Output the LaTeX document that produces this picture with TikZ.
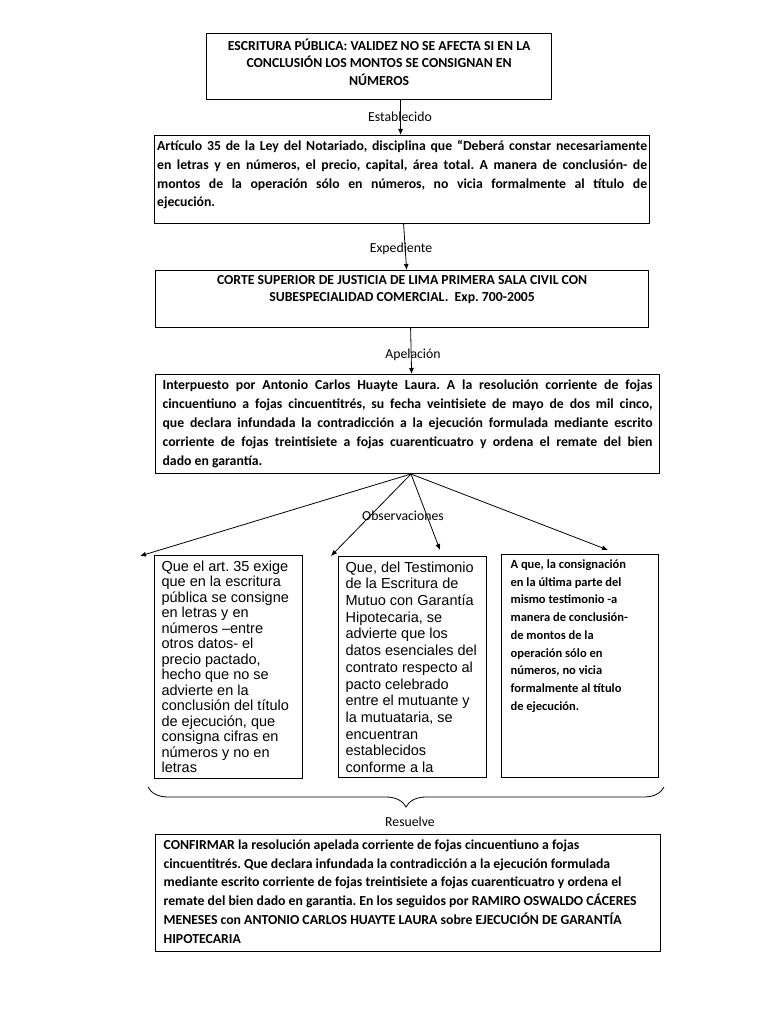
\documentclass[tikz,border=0pt]{standalone}
\usepackage{fontspec}
\setmainfont{Carlito}
\newfontfamily\arialfont{Liberation Sans}
\usetikzlibrary{calc,arrows.meta,decorations.pathreplacing}
\newcommand{\boxtext}[3]{\parbox[c][#2][t]{#1}{\hbadness=10000\frenchspacing #3}}

\begin{document}
\begin{tikzpicture}[x=1pt,y=-1pt,
 panel/.style={draw,line width=1.2pt,anchor=north west,inner ysep=5pt,font=\bfseries\fontsize{13.75}{18.5}\selectfont},
 tag/.style={font=\fontsize{13.75}{16}\selectfont},
 link/.style={-{Latex[length=6pt,width=5pt]},line width=0.8pt}]
 \useasboundingbox (0,0) rectangle (768,1024);
 \node[panel,inner xsep=5pt,font=\bfseries\fontsize{13.75}{17.5}\selectfont] (t) at (206,33) {\boxtext{335pt}{56pt}{\centering ESCRITURA PÚBLICA: VALIDEZ NO SE AFECTA SI EN LA\\ CONCLUSIÓN LOS MONTOS SE CONSIGNAN EN\\ NÚMEROS}};
 \node[panel,inner xsep=2.5pt,font=\bfseries\fontsize{13.75}{18.7}\selectfont] (a) at (154,135) {\boxtext{490pt}{78pt}{Artículo 35 de la Ley del Notariado, disciplina que “Deberá constar necesariamente\linebreak en letras y en números, el precio, capital, área total. A manera de conclusión- de\linebreak montos de la operación sólo en números, no vicia formalmente al título de\linebreak ejecución.}};
 \node[panel,inner xsep=5pt,font=\bfseries\fontsize{13.75}{17}\selectfont] (c) at (155,270) {\boxtext{483pt}{47pt}{\centering CORTE SUPERIOR DE JUSTICIA DE LIMA PRIMERA SALA CIVIL CON\\ SUBESPECIALIDAD COMERCIAL.\ \ Exp. 700-2005}};
 \node[panel,inner xsep=7pt,font=\bfseries\fontsize{13.75}{19}\selectfont] (i) at (155,374) {\boxtext{490pt}{89pt}{Interpuesto por Antonio Carlos Huayte Laura. A la resolución corriente de fojas\linebreak cincuentiuno a fojas cincuentitrés, su fecha veintisiete de mayo de dos mil cinco,\linebreak que declara infundada la contradicción a la ejecución formulada mediante escrito\linebreak corriente de fojas treintisiete a fojas cuarenticuatro y ordena el remate del bien\linebreak dado en garantía.}};
 \node[panel,inner xsep=7pt,font=\arialfont\fontsize{14.5}{15.5}\selectfont] (o1) at (154,555) {\boxtext{134pt}{213pt}{\raggedright Que el art. 35 exige\\ que en la escritura\\ pública se consigne\\ en letras y en\\ números –entre\\ otros datos- el\\ precio pactado,\\ hecho que no se\\ advierte en la\\ conclusión del título\\ de ejecución, que\\ consigna cifras en\\ números y no en\\ letras}};
 \node[panel,inner xsep=7pt,font=\arialfont\fontsize{14.5}{16.7}\selectfont] (o2) at (338,556) {\boxtext{134pt}{211pt}{\raggedright Que, del Testimonio\\ de la Escritura de\\ Mutuo con Garantía\\ Hipotecaria, se\\ advierte que los\\ datos esenciales del\\ contrato respecto al\\ pacto celebrado\\ entre el mutuante y\\ la mutuataria, se\\ encuentran\\ establecidos\\ conforme a la}};
 \node[panel,inner xsep=9pt,font=\bfseries\fontsize{12.5}{17.75}\selectfont] (o3) at (501,554) {\boxtext{139pt}{213pt}{\raggedright A que, la consignación\\ en la última parte del\\ mismo testimonio -a\\ manera de conclusión-\\ de montos de la\\ operación sólo en\\ números, no vicia\\ formalmente al título\\ de ejecución.}};
 \node[panel,inner xsep=8pt,font=\bfseries\fontsize{13.75}{18.8}\selectfont] (r) at (155,834) {\boxtext{489pt}{107pt}{\raggedright CONFIRMAR la resolución apelada corriente de fojas cincuentiuno a fojas\\ cincuentitrés. Que declara infundada la contradicción a la ejecución formulada\\ mediante escrito corriente de fojas treintisiete a fojas cuarenticuatro y ordena el\\ remate del bien dado en garantia. En los seguidos por RAMIRO OSWALDO CÁCERES\\ MENESES con ANTONIO CARLOS HUAYTE LAURA sobre EJECUCIÓN DE GARANTÍA\\ HIPOTECARIA}};
 \coordinate (P) at (411,474); \coordinate (Q1) at (140,556); \coordinate (Q2) at (331,556); \coordinate (Q3) at (440,550); \coordinate (Q4) at (608,550);
 \draw[link] ($(t.south)+(21.5,0)$) -- ($(a.north)+(-1.5,0)$);
 \draw[link] ($(a.south)+(1.5,0)$) -- ($(c.north)+(4.5,0)$);
 \draw[link] ($(c.south)+(8.5,0)$) -- ($(i.north)+(4,0)$);
 \foreach \q in {Q1,Q2,Q3,Q4} \draw[link] (P) -- (\q);
 \node[tag] (l1) at (400,117) {Establecido};
 \node[tag] (l2) at (401,249) {Expediente};
 \node[tag] (l3) at (413,355) {Apelación};
 \node[tag] (l4) at (403,516) {Observaciones};
 \draw[line width=0.8pt,decorate,decoration={brace,amplitude=20pt}] (664,787) -- (148,787);
 \node[tag] (l5) at (410,822) {Resuelve};
\end{tikzpicture}
\end{document}
